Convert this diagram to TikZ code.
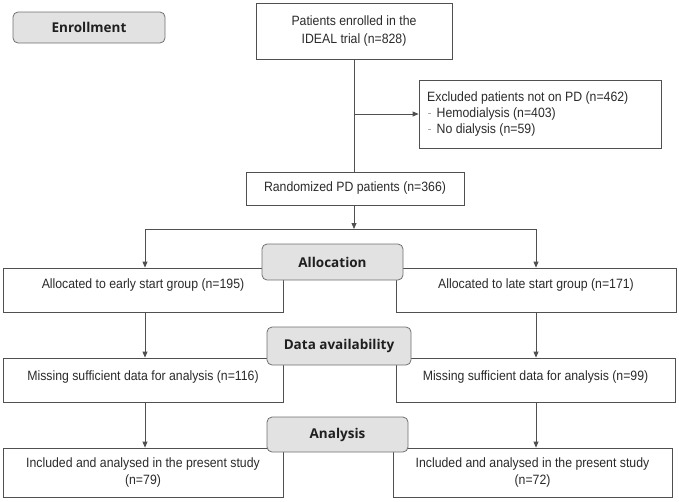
\documentclass[tikz,border=0pt]{standalone}
\usepackage{fontspec}
\setmainfont{Liberation Sans}[FakeStretch=0.91]
\newfontfamily\hdrfont{Open Sans}
\usetikzlibrary{arrows.meta}
\definecolor{linec}{HTML}{505050}
\definecolor{txtc}{HTML}{2A2A2A}
\definecolor{hdrfill}{HTML}{E2E2E2}
\definecolor{hdrline}{HTML}{707070}
\definecolor{dashc}{HTML}{A8A8A8}
\newcommand\dsh{\makebox[9.5pt][l]{\hspace*{1pt}\textcolor{dashc}{\rule[3.8pt]{3pt}{0.8pt}}}}
\begin{document}
\begin{tikzpicture}[x=1pt,y=-1pt,
  box/.style={draw=linec, line width=0.8pt, inner sep=0pt, align=center,
    font=\fontsize{13.5}{17.5}\selectfont, text=txtc},
  lbl/.style={inner sep=0pt, align=center, font=\fontsize{13.5}{17.5}\selectfont, text=txtc},
  hdr/.style={draw=hdrline, fill=hdrfill, rounded corners=5pt, line width=0.8pt,
    inner sep=0pt, font=\hdrfont\bfseries\fontsize{13.5}{16}\selectfont, text=black!88},
  arr/.style={draw=linec, line width=0.8pt, -{Triangle[length=6pt,width=5pt]}},
  ln/.style={draw=linec, line width=0.8pt}]
\useasboundingbox (0,0) rectangle (679,501);

% flow boxes
\node[box, minimum width=196pt, minimum height=56pt] (pat) at (354,31)
  {Patients enrolled in the\\IDEAL trial (n=828)};
\node[box, minimum width=242pt, minimum height=68pt] (exc) at (540,114) {};
\node[lbl, align=left, anchor=west, font=\fontsize{13.5}{16}\selectfont] (exct) at (427,114)
  {Excluded patients not on PD (n=462)\\\dsh Hemodialysis (n=403)\\\dsh No dialysis (n=59)};
\node[box, minimum width=218pt, minimum height=33pt] (rnd) at (355,188.5)
  {Randomized PD patients (n=366)};

\node[box, minimum width=280pt, minimum height=44pt] (allocL) at (143,290) {};
\node[lbl] (allocLt) at ([yshift=5pt]allocL.center) {Allocated to early start group (n=195)};
\node[box, minimum width=280pt, minimum height=44pt] (allocR) at (536,290) {};
\node[lbl] (allocRt) at ([yshift=5pt]allocR.center) {Allocated to late start group (n=171)};

\node[box, minimum width=280pt, minimum height=44pt] (missL) at (143,380) {};
\node[lbl] (missLt) at ([yshift=3pt]missL.center) {Missing sufficient data for analysis (n=116)};
\node[box, minimum width=279pt, minimum height=44pt] (missR) at (535.5,380) {};
\node[lbl] (missRt) at ([yshift=3pt]missR.center) {Missing sufficient data for analysis (n=99)};

\node[box, minimum width=280pt, minimum height=49pt] (inclL) at (143,472.5)
  {Included and analysed in the present study\\(n=79)};
\node[box, minimum width=279pt, minimum height=49pt] (inclR) at (532.5,472.5)
  {Included and analysed in the present study\\(n=72)};

% connectors
\coordinate (ex) at (354,114);
\coordinate (bl) at (145,229);
\coordinate (br) at (536,229);
\coordinate (bm) at (354,229);
\draw[ln] (pat.south -| ex) -- (rnd.north -| ex);
\draw[arr] (ex) -- (exc.west |- ex);
\draw[arr] (rnd.south -| bm) -- (bm);
\draw[ln] (bl) -- (br);
\draw[arr] (bl) -- (bl |- allocL.north);
\draw[arr] (br) -- (br |- allocR.north);
\draw[arr] (bl |- allocL.south) -- (bl |- missL.north);
\draw[arr] (br |- allocR.south) -- (br |- missR.north);
\draw[arr] (bl |- missL.south) -- (bl |- inclL.north);
\draw[arr] (br |- missR.south) -- (br |- inclR.north);

% stage headers
\node[hdr, minimum width=152pt, minimum height=31pt] (enr) at (89,27.5) {Enrollment};
\node[hdr, minimum width=141pt, minimum height=36pt] (alc) at (332.5,262) {Allocation};
\node[hdr, minimum width=144pt, minimum height=38pt] (dat) at (339,346) {Data availability};
\node[hdr, minimum width=141pt, minimum height=35pt] (ana) at (337.5,434.5) {Analysis};
\end{tikzpicture}
\end{document}
